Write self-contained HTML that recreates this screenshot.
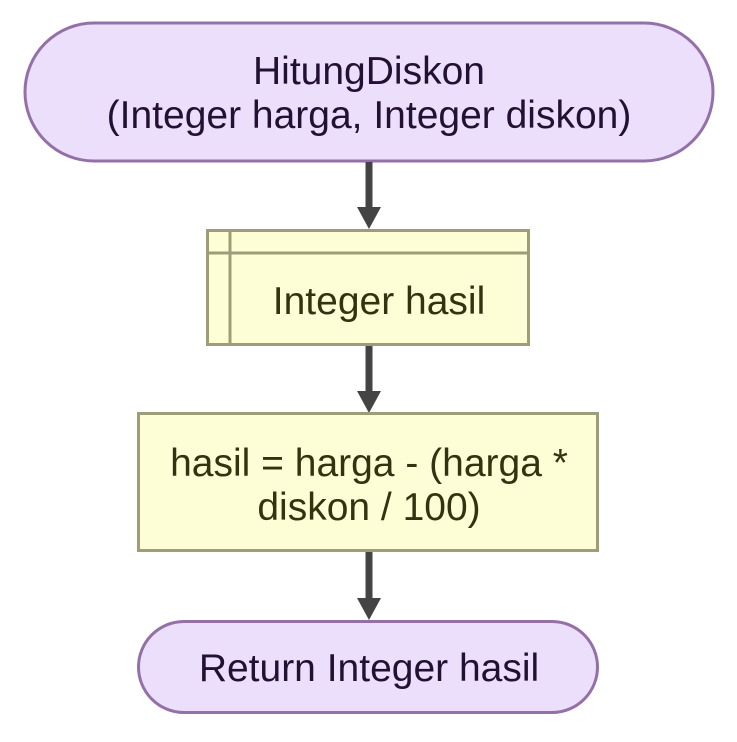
<!DOCTYPE html>
<html><head><style>body{margin:0;background:#fff}</style></head><body>
<svg width="737" height="737" xmlns="http://www.w3.org/2000/svg" font-family="Liberation Sans, sans-serif" font-size="39" text-anchor="middle">
<rect x="0" y="0" width="737" height="737" fill="#fff"/>
<rect x="25" y="23" width="688" height="138" rx="69" fill="#ecdffb" stroke="#9370a8" stroke-width="3"/>
<text x="369" y="84" fill="#221133">HitungDiskon</text>
<text x="369" y="128" fill="#221133">(Integer harga, Integer diskon)</text>
<g stroke="#444" stroke-width="7"><line x1="369" y1="162" x2="369" y2="212"/><line x1="369" y1="346" x2="369" y2="396"/><line x1="369" y1="552" x2="369" y2="604"/></g>
<g fill="#444"><polygon points="357,207 381,207 369,229"/><polygon points="357,391 381,391 369,413"/><polygon points="357,598 381,598 369,620"/></g>
<rect x="207.5" y="230.5" width="321" height="114" fill="#fefed6" stroke="#9e9d77" stroke-width="3"/>
<line x1="230" y1="230" x2="230" y2="345" stroke="#9e9d77" stroke-width="3"/>
<line x1="207" y1="253" x2="529" y2="253" stroke="#9e9d77" stroke-width="3"/>
<text x="379" y="314" fill="#333311">Integer hasil</text>
<rect x="138.5" y="413.5" width="459" height="137" fill="#fefed6" stroke="#9e9d77" stroke-width="3"/>
<text x="369" y="476" fill="#333311">hasil = harga - (harga *</text>
<text x="369" y="520" fill="#333311">diskon / 100)</text>
<rect x="138.5" y="621.5" width="459" height="91" rx="45.5" fill="#ecdffb" stroke="#9370a8" stroke-width="3"/>
<text x="369" y="681" fill="#221133">Return Integer hasil</text>
</svg>
</body></html>
